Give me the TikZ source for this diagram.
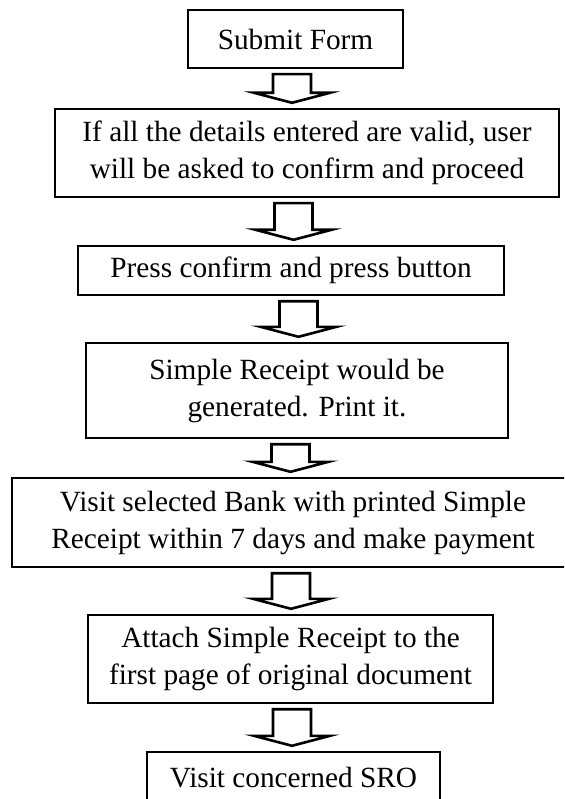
\documentclass[tikz,border=0pt]{standalone}
\usepackage{fontspec}
\setmainfont{Liberation Serif}
\usetikzlibrary{calc}
\tikzset{
  flowbox/.style={draw, line width=2.4pt, align=center, inner sep=0pt,
    font=\fontsize{29.3}{37}\selectfont},
  blockarrow/.style={draw, line width=2.6pt, line join=miter, fill=white}
}
% #1 upper node, #2 lower node, #3 centre x (pt)
\newcommand\flowarrow[3]{%
  \draw[blockarrow] let \p1=(#1.south), \p2=(#2.north) in
    (#3pt-19pt,\y1-5pt) -- (#3pt-19pt,\y2+15pt) -- (#3pt-38pt,\y2+15pt)
    -- (#3pt,\y2+5pt) -- (#3pt+38pt,\y2+15pt) -- (#3pt+19pt,\y2+15pt)
    -- (#3pt+19pt,\y1-5pt) -- cycle;}
\begin{document}
\begin{tikzpicture}[x=1pt,y=1pt]
\useasboundingbox (0,0) rectangle (564,-799);
\clip (0,0) rectangle (564,-799);
\node[flowbox, minimum width=215pt, minimum height=58pt] (b1) at (295.5,-39) {Submit Form};
\node[flowbox, minimum width=504pt, minimum height=88pt] (b2) at (307,-153)
  {If all the details entered are valid, user\\will be asked to confirm and proceed};
\node[flowbox, minimum width=426pt, minimum height=49pt] (b3) at (291,-270.5)
  {Press confirm and press button};
\node[flowbox, minimum width=422pt, minimum height=95pt] (b4) at (297,-390.5)
  {Simple Receipt would be\\generated. Print it.};
\node[flowbox, minimum width=562pt, minimum height=89pt] (b5) at (293,-522.5)
  {Visit selected Bank with printed Simple\\Receipt within 7 days and make payment};
\node[flowbox, minimum width=405pt, minimum height=88pt] (b6) at (290.5,-659)
  {Attach Simple Receipt to the\\first page of original document};
\node[flowbox, minimum width=293pt, minimum height=52pt] (b7) at (293.5,-778)
  {Visit concerned SRO};
\flowarrow{b1}{b2}{292}
\flowarrow{b2}{b3}{293.5}
\flowarrow{b3}{b4}{298.5}
\flowarrow{b4}{b5}{290.5}
\flowarrow{b5}{b6}{291}
\flowarrow{b6}{b7}{292}
\end{tikzpicture}
\end{document}
